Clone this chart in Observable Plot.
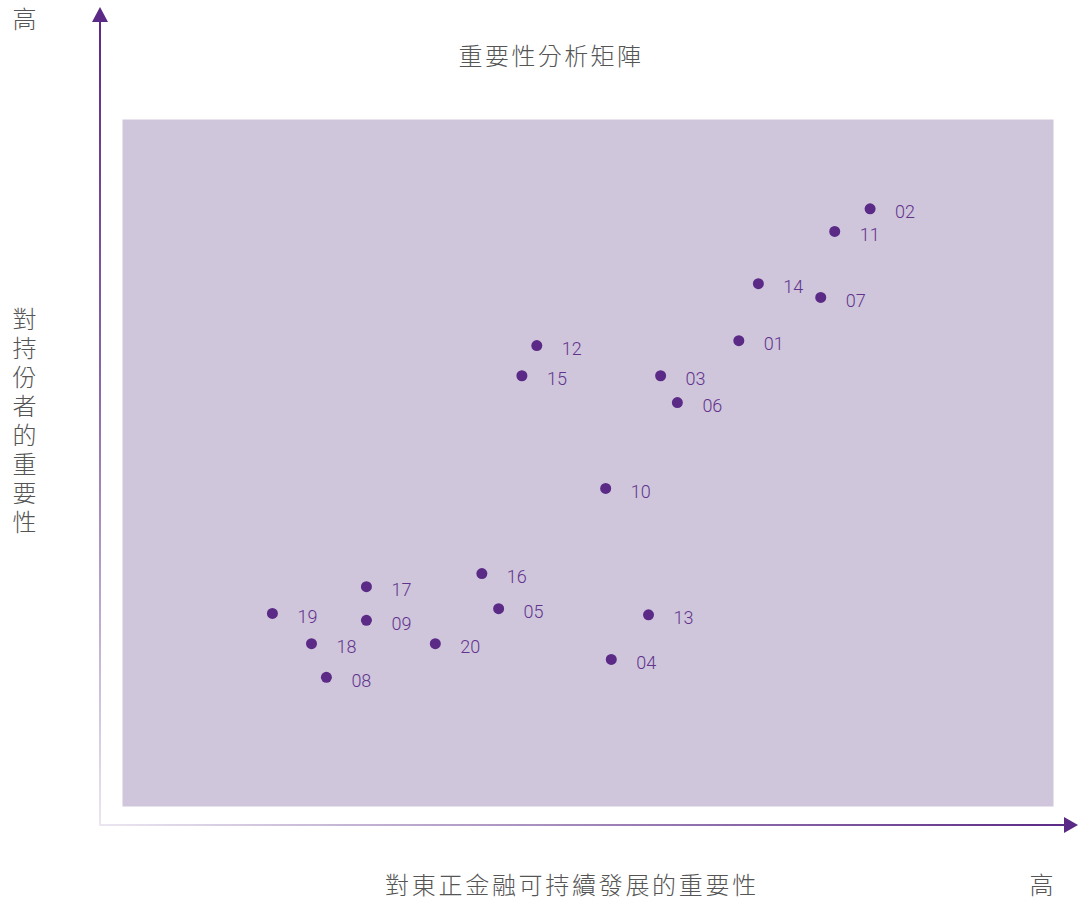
<!DOCTYPE html>
<html>
<head>
<meta charset="utf-8">
<script src="https://cdn.jsdelivr.net/npm/d3@7"></script>
<script src="https://cdn.jsdelivr.net/npm/@observablehq/plot@0.6"></script>
<style>
  html, body { margin: 0; padding: 0; background: #fff; }
  #chart { width: 1078px; height: 903px; }
</style>
</head>
<body>
<div id="chart"></div>
<script>
// Topic IDs and their positions (0–100 relative scales)
const ids = ["02","11","14","07","01","12","15","03","06","10","16","17","05","19","13","09","18","20","08","04"];
// Importance to sustainable finance (x)
const financeImportance = [80.3,76.5,68.3,75.0,66.2,44.5,42.9,57.8,59.6,51.9,38.6,26.2,40.4,16.1,56.5,26.2,20.3,33.6,21.9,52.5];
// Importance to stakeholders (y)
const stakeholderImportance = [87.0,83.7,76.1,74.1,67.8,67.1,62.7,62.7,58.8,46.3,33.9,32.0,28.8,28.1,27.9,27.1,23.7,23.7,18.8,21.4];

const title = "重要性分析矩陣";
const xLabel = "對東正金融可持續發展的重要性";
const yLabel = "對持份者的重要性";
const highLabel = "高";

const data = ids.map((id, i) => ({id, x: financeImportance[i], y: stakeholderImportance[i]}));

const purple = "#5b2a86";
const cjk = "'Noto Sans CJK TC', 'Noto Sans CJK SC', sans-serif";
const textGray = "#555";

const chart = Plot.plot({
  width: 1078,
  height: 903,
  marginLeft: 122,
  marginRight: 25,
  marginTop: 119,
  marginBottom: 97,
  x: {domain: [0, 100], axis: null},
  y: {domain: [0, 100], axis: null},
  style: {fontFamily: "Roboto, 'Liberation Sans', sans-serif", background: "white"},
  marks: [
    Plot.frame({fill: "#cfc6dc", stroke: "none"}),
    Plot.dot(data, {x: "x", y: "y", r: 5.5, fill: purple, stroke: "none"}),
    Plot.text(data, {x: "x", y: "y", text: "id", dx: 25, dy: 3.5, textAnchor: "start",
      fill: "#62338c", fontSize: 18, fontWeight: 300}),
    // title
    Plot.text([title], {frameAnchor: "top", text: d => d, dx: -37, dy: -62, lineAnchor: "middle",
      fontSize: 24, fill: textGray, fontFamily: cjk, fontWeight: 300, className: "ttl"}),
    // x label
    Plot.text([xLabel], {frameAnchor: "bottom", text: d => d, dx: -16, dy: 80, lineAnchor: "middle",
      fontSize: 24, fill: textGray, fontFamily: cjk, fontWeight: 300, className: "xlab"}),
    // y label (vertical)
    Plot.text([yLabel], {frameAnchor: "left", text: d => d, dx: -98, dy: -48,
      textAnchor: "middle", fontSize: 24, fill: textGray, fontFamily: cjk, fontWeight: 300, className: "ylab"}),
    // high labels
    Plot.text([highLabel], {frameAnchor: "top-left", text: d => d, dx: -98, dy: -99, lineAnchor: "middle",
      textAnchor: "middle", fontSize: 24, fill: textGray, fontFamily: cjk, fontWeight: 300}),
    Plot.text([highLabel], {frameAnchor: "bottom-right", text: d => d, dx: -12, dy: 80, lineAnchor: "middle",
      textAnchor: "middle", fontSize: 24, fill: textGray, fontFamily: cjk, fontWeight: 300})
  ]
});

const svg = d3.select(chart);
svg.selectAll(".ttl text").style("letter-spacing", "2.4px");
svg.selectAll(".xlab text").style("letter-spacing", "2.7px");
svg.selectAll(".ylab text")
  .style("writing-mode", "vertical-rl")
  .style("text-orientation", "upright")
  .style("letter-spacing", "5px")
  .attr("dominant-baseline", "central");

// Axis arrows (decoration) drawn relative to the plot margins
const defs = svg.append("defs");
const gv = defs.append("linearGradient").attr("id", "gv").attr("x1", 0).attr("y1", 0).attr("x2", 0).attr("y2", 1);
gv.append("stop").attr("offset", "0%").attr("stop-color", purple);
gv.append("stop").attr("offset", "45%").attr("stop-color", "#8a67a8");
gv.append("stop").attr("offset", "100%").attr("stop-color", "#ebe6f1");
const gh = defs.append("linearGradient").attr("id", "gh").attr("x1", 0).attr("y1", 0).attr("x2", 1).attr("y2", 0);
gh.append("stop").attr("offset", "0%").attr("stop-color", "#ebe6f1");
gh.append("stop").attr("offset", "55%").attr("stop-color", "#9a7db4");
gh.append("stop").attr("offset", "100%").attr("stop-color", purple);

const ox = 122 - 22, oy = 903 - 97 + 19; // axis origin
const topY = 7, rightX = 1078;
svg.append("rect").attr("x", ox - 1).attr("y", 20).attr("width", 2).attr("height", oy - 20 + 1).attr("fill", "url(#gv)");
svg.append("rect").attr("x", ox - 1).attr("y", oy - 1).attr("width", 1066 - ox + 1).attr("height", 2).attr("fill", "url(#gh)");
svg.append("path").attr("d", `M${ox},${topY} L${ox + 8},${topY + 15} L${ox - 8},${topY + 15} Z`).attr("fill", purple);
svg.append("path").attr("d", `M${rightX},${oy} L${rightX - 14},${oy - 8} L${rightX - 14},${oy + 8} Z`).attr("fill", purple);

document.getElementById("chart").appendChild(chart);
</script>
</body>
</html>
